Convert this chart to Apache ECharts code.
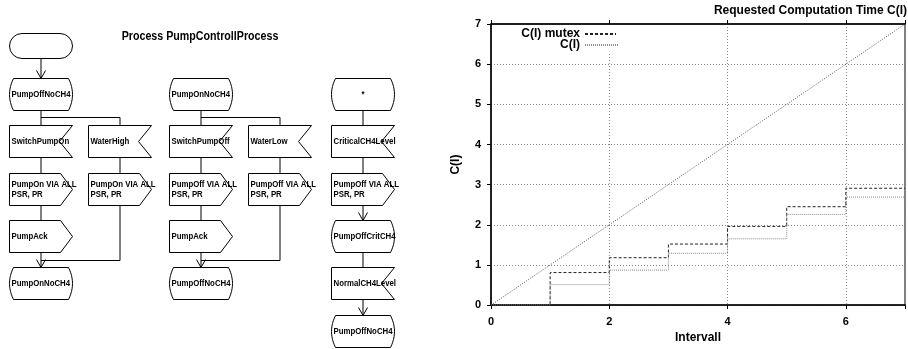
<!DOCTYPE html>
<html>
<head>
<meta charset="utf-8">
<script src="https://cdn.jsdelivr.net/npm/echarts@6/dist/echarts.min.js"></script>
<style>html,body{margin:0;padding:0;background:#fff;}#c{width:908px;height:349px;}</style>
</head>
<body>
<div id="c"></div>
<script>
// ---------- data ----------
const flowTitle = 'Process PumpControllProcess';
const chartTitle = 'Requested Computation Time C(I)';
// flowchart columns: [kind, label]
const column1 = [['start', ''], ['state', 'PumpOffNoCH4'], ['input', 'SwitchPumpOn'], ['output', 'PumpOn VIA ALL\nPSR, PR'], ['output', 'PumpAck'], ['state', 'PumpOnNoCH4']];
const column1b = [['input', 'WaterHigh'], ['output', 'PumpOn VIA ALL\nPSR, PR']];
const column2 = [['state', 'PumpOnNoCH4'], ['input', 'SwitchPumpOff'], ['output', 'PumpOff VIA ALL\nPSR, PR'], ['output', 'PumpAck'], ['state', 'PumpOffNoCH4']];
const column2b = [['input', 'WaterLow'], ['output', 'PumpOff VIA ALL\nPSR, PR']];
const column3 = [['state', '*'], ['input', 'CriticalCH4Level'], ['output', 'PumpOff VIA ALL\nPSR, PR'], ['state', 'PumpOffCritCH4'], ['input', 'NormalCH4Level'], ['state', 'PumpOffNoCH4']];

const intervals = [0, 1, 2, 3, 4, 5, 6, 7];
const cMutex = [0, 0.81, 1.18, 1.52, 1.96, 2.45, 2.91, 2.91];
const cPlain = [0, 0.51, 0.87, 1.29, 1.65, 2.26, 2.69, 2.69];
const diagX = [0, 7];
const diagY = [0, 7];
const seriesNames = ['C(I) mutex', 'C(I)'];

// ---------- flowchart drawing ----------
const FONT = '"Liberation Sans", Arial, Helvetica, sans-serif';
const W = 63, H = 32;
const rowTop = [33, 78, 125, 173, 220, 267, 315];
const els = [];
const stroke = { stroke: '#000', lineWidth: 1, fill: '#fff' };

function addText(x, y, txt, center) {
  els.push({
    type: 'text', x: x, y: y, scaleX: 0.84, z: 10,
    style: { text: txt, font: 'bold 9.3px ' + FONT, fill: '#000', align: center ? 'center' : 'left', verticalAlign: 'middle', lineHeight: 10.5 }
  });
}
function quad(p0, c, p2, n) {
  const out = [];
  for (let k = 1; k <= n; k++) {
    const t = k / n, a = (1 - t) * (1 - t), b = 2 * (1 - t) * t, d = t * t;
    out.push([a * p0[0] + b * c[0] + d * p2[0], a * p0[1] + b * c[1] + d * p2[1]]);
  }
  return out;
}
function node(kind, label, x0, row) {
  const x = x0 + 0.5, y = rowTop[row] + 0.5, h = kind === 'start' ? 25 : H, x1 = x + W, y1 = y + h, m = y + h / 2;
  if (kind === 'start') {
    els.push({ type: 'rect', shape: { x: x, y: y, width: W, height: h, r: h / 2 }, style: stroke });
  } else if (kind === 'state') {
    let pts = [[x + 4, y], [x1 - 4, y]];
    pts = pts.concat(quad([x1 - 4, y], [x1 + 4, m], [x1 - 4, y1], 12));
    pts.push([x + 4, y1]);
    pts = pts.concat(quad([x + 4, y1], [x - 4, m], [x + 4, y], 12));
    els.push({ type: 'polygon', shape: { points: pts }, style: stroke });
  } else if (kind === 'input') {
    els.push({ type: 'polygon', shape: { points: [[x, y], [x1, y], [x1 - 13, m], [x1, y1], [x, y1]] }, style: stroke });
  } else if (kind === 'output') {
    els.push({ type: 'polygon', shape: { points: [[x, y], [x1 - 12, y], [x1, m], [x1 - 12, y1], [x, y1]] }, style: stroke });
  }
  if (label) {
    if (label === '*') addText(x + W / 2, m, label, true);
    else addText(x + 2, m, label, false);
  }
}
function line(pts) {
  els.push({ type: 'polyline', shape: { points: pts }, style: { stroke: '#000', lineWidth: 1, fill: null } });
}
function arrowHead(cx, ty) {
  line([[cx - 4.5, ty - 8], [cx, ty], [cx + 4.5, ty - 8]]);
}
function bottomOf(row, kind) { return rowTop[row] + (kind === 'start' ? 25 : H) + 0.5; }

function column(list, x0, startRow) {
  const cx = x0 + W / 2 + 0.5;
  list.forEach((n, i) => {
    const row = startRow + i;
    node(n[0], n[1], x0, row);
    if (i < list.length - 1) {
      const yb = bottomOf(row, n[0]);
      const yt = rowTop[row + 1] + 0.5;
      line([[cx, yb], [cx, yt]]);
      if (list[i + 1][0] === 'state') arrowHead(cx, yt);
    }
  });
}
function branch(mainX0, sideX0, list, joinRow) {
  const cx = mainX0 + W / 2 + 0.5, sx = sideX0 + W / 2 + 0.5;
  const yb = rowTop[1] + H + 7.5;
  line([[cx, yb], [sx, yb], [sx, rowTop[2] + 0.5]]);
  column(list, sideX0, 2);
  const lastBottom = bottomOf(3, 'output');
  line([[sx, lastBottom], [sx, rowTop[joinRow] - 6.5], [cx, rowTop[joinRow] - 6.5]]);
}

column(column1, 9, 0);
branch(9, 88, column1b, 5);
column(column2, 169, 1);
branch(169, 248, column2b, 5);
column(column3, 331, 1);

els.push({
  type: 'text', x: 200, y: 37, scaleX: 0.89, z: 10,
  style: { text: flowTitle, font: 'bold 12px ' + FONT, fill: '#000', align: 'center', verticalAlign: 'middle' }
});

// ---------- chart ----------
const chart = echarts.init(document.getElementById('c'), null, { renderer: 'canvas' });
const bold = { color: '#000', fontWeight: 'bold', fontFamily: FONT };
const mutexLine = { color: '#222', width: 1, type: [3, 2] };
const plainLine = { color: '#8a8a8a', width: 1, type: [1, 1] };
const legendBase = {
  orient: 'vertical', align: 'right', itemHeight: 12, backgroundColor: '#fff',
  textStyle: Object.assign({ fontSize: 12 }, bold), selectedMode: false,
  itemStyle: { opacity: 0 }
};

chart.setOption({
  animation: false,
  backgroundColor: '#fff',
  title: { text: chartTitle, right: 1, top: 5, padding: 0, textStyle: Object.assign({ fontSize: 12 }, bold) },
  legend: [
    Object.assign({ data: [seriesNames[0]], right: 289, top: 27, itemWidth: 31, padding: [1, 2, 1, 10] }, legendBase),
    Object.assign({ data: [seriesNames[1]], right: 287, top: 38, itemWidth: 33, padding: [1, 2, 2, 10] }, legendBase)
  ],
  grid: { left: 491, right: 1, top: 24, bottom: 41, show: true, borderColor: '#000', borderWidth: 1, containLabel: false },
  xAxis: [
    {
      type: 'value', min: 0, max: 7, interval: 2, position: 'bottom',
      name: 'Intervall', nameLocation: 'middle', nameGap: 23, nameTextStyle: Object.assign({ fontSize: 12 }, bold),
      axisLine: { lineStyle: { color: '#000', width: 1.5 } },
      axisTick: { length: 4, lineStyle: { color: '#000' } },
      axisLabel: Object.assign({ fontSize: 11, margin: 11, formatter: v => (v % 2 === 0 ? String(v) : '') }, bold),
      splitLine: { show: true, lineStyle: { color: '#888', type: [1, 2], width: 1 } }
    },
    {
      type: 'value', min: 0, max: 7, interval: 2, position: 'top',
      axisLine: { show: true, lineStyle: { color: '#000', width: 1.5 } },
      axisTick: { show: true, length: 4, lineStyle: { color: '#000' } },
      axisLabel: { show: false }, splitLine: { show: false }
    }
  ],
  yAxis: {
    type: 'value', min: 0, max: 7, interval: 1,
    name: 'C(I)', nameLocation: 'middle', nameGap: 29, nameTextStyle: Object.assign({ fontSize: 12 }, bold),
    axisLine: { show: true, lineStyle: { color: '#000', width: 1.5 } },
    axisTick: { show: true, length: 4, lineStyle: { color: '#000' } },
    axisLabel: Object.assign({ fontSize: 11, margin: 10 }, bold),
    splitLine: { show: true, lineStyle: { color: '#888', type: [1, 2], width: 1 } }
  },
  graphic: els,
  series: [
    {
      name: 'diagonal', type: 'line', symbol: 'none', silent: true,
      data: diagX.map((x, i) => [x, diagY[i]]),
      lineStyle: { color: '#555', width: 1, type: [1, 1.5] }
    },
    {
      name: seriesNames[0], type: 'line', step: 'end', symbol: 'none', silent: true,
      data: intervals.map((x, i) => [x, cMutex[i]]),
      lineStyle: mutexLine, itemStyle: { color: '#222' }
    },
    {
      name: seriesNames[1], type: 'line', step: 'end', symbol: 'none', silent: true,
      data: intervals.map((x, i) => [x, cPlain[i]]),
      lineStyle: plainLine, itemStyle: { color: '#8a8a8a' }
    }
  ]
});
</script>
</body>
</html>
